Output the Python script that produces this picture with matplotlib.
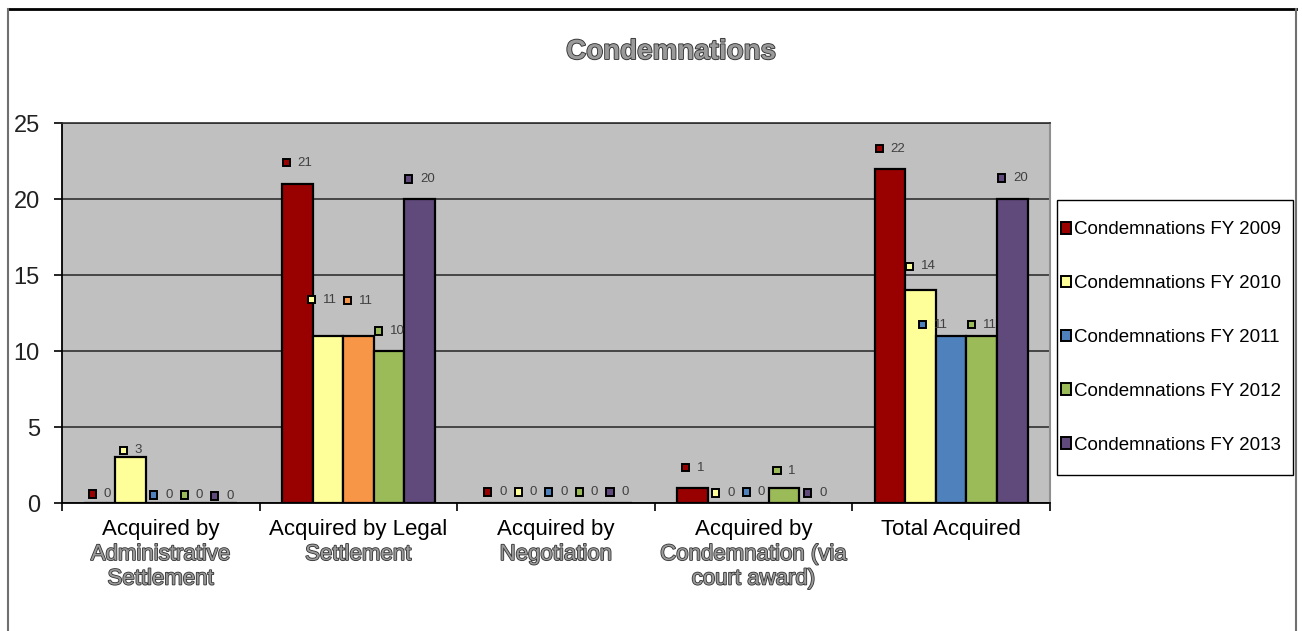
import matplotlib
matplotlib.use("Agg")
import matplotlib.pyplot as plt
import matplotlib.patheffects as pe
from matplotlib.patches import Patch, Rectangle
from matplotlib.lines import Line2D
from matplotlib.offsetbox import DrawingArea, TextArea, HPacker, AnnotationBbox
from matplotlib import font_manager

# ---- data ----
categories = [
    "Acquired by\nAdministrative\nSettlement",
    "Acquired by Legal\nSettlement",
    "Acquired by\nNegotiation",
    "Acquired by\nCondemnation (via\ncourt award)",
    "Total Acquired",
]
series_names = [
    "Condemnations FY 2009",
    "Condemnations FY 2010",
    "Condemnations FY 2011",
    "Condemnations FY 2012",
    "Condemnations FY 2013",
]
fy2009 = [0, 21, 0, 1, 22]
fy2010 = [3, 11, 0, 0, 14]
fy2011 = [0, 11, 0, 0, 11]
fy2012 = [0, 10, 0, 1, 11]
fy2013 = [0, 20, 0, 0, 20]
values = [fy2009, fy2010, fy2011, fy2012, fy2013]
y_ticks = [0, 5, 10, 15, 20, 25]

# ---- styling ----
series_colors = ["#990000", "#FFFF99", "#4F81BD", "#9BBB59", "#604A7B"]
point_color_override = {(2, 1): "#F79646"}   # (series, category)
# label lift above bar top, in pixels, per series then category
label_lift = [
    [9, 21, 11, 20, 20],
    [7, 36, 11, 10, 24],
    [8, 35, 11, 11, 11],
    [8, 20, 11, 17, 11],
    [7, 20, 11, 10, 21],
]
label_shift = {(1, 1): -6, (2, 4): -18}

avail = {f.name for f in font_manager.fontManager.ttflist}
base_font = "Liberation Sans" if "Liberation Sans" in avail else "DejaVu Sans"
plt.rcParams["font.family"] = [base_font, "DejaVu Sans"]

W, H = 1302, 631
fig = plt.figure(figsize=(W / 100, H / 100), dpi=100)
fig.patch.set_facecolor("white")

def fx(px):
    return px / W

def fy(py):
    return 1 - py / H

ax = fig.add_axes([fx(62), fy(503), fx(1050) - fx(62), fy(123) - fy(503)])
ax.set_facecolor("#C0C0C0")

n_series = len(values)
gap = 1.46
bw = 1.0 / (n_series + gap)
xs = list(range(len(categories)))

for s in range(n_series):
    for c in xs:
        col = point_color_override.get((s, c), series_colors[s])
        x = c + (s - (n_series - 1) / 2) * bw
        ax.bar(x, values[s][c], width=bw, color=col, edgecolor="black",
               linewidth=1.6, zorder=3)

ax.set_xlim(-0.5, len(categories) - 0.5)
ax.set_ylim(0, 25)
ax.set_yticks(y_ticks)
ax.set_yticklabels([str(t) for t in y_ticks], fontsize=17, color="#222222")
ax.set_xticks([i - 0.5 for i in range(len(categories) + 1)])
ax.set_xticklabels([])
ax.tick_params(axis="y", direction="out", length=6, width=1.2, pad=10)
ax.tick_params(axis="x", direction="out", length=6, width=1.2)
ax.yaxis.grid(True, color="#303030", linewidth=1.2, zorder=1)
ax.set_axisbelow(True)
for side in ["left", "bottom"]:
    ax.spines[side].set_color("black")
    ax.spines[side].set_linewidth(1.3)
ax.spines["top"].set_color("#303030")
ax.spines["top"].set_linewidth(1.2)
ax.spines["right"].set_color("#909090")
ax.spines["right"].set_linewidth(1.5)

# data labels with legend keys
px2pt = 0.72
for s in range(n_series):
    for c in xs:
        v = values[s][c]
        col = point_color_override.get((s, c), series_colors[s])
        x = c + (s - (n_series - 1) / 2) * bw
        key = DrawingArea(6.5, 6.5, 0, 0)
        key.add_artist(Rectangle((0.7, 0.7), 5.1, 5.1, facecolor=col,
                                 edgecolor="black", linewidth=1.4))
        txt = TextArea(str(v), textprops=dict(fontsize=9.5, color="#404040"))
        box = HPacker(children=[key, txt], sep=5, align="center", pad=0)
        dx = label_shift.get((s, c), 0)
        ab = AnnotationBbox(box, (x, v), xybox=(dx * px2pt, label_lift[s][c] * px2pt),
                            xycoords="data", boxcoords="offset points",
                            frameon=False, pad=0, box_alignment=(0.5, 0.5),
                            annotation_clip=False, zorder=5)
        ax.add_artist(ab)

# category labels: first line plain, following lines outlined
outline = [pe.Stroke(linewidth=1.2, foreground="#333333"), pe.Normal()]
for c, name in enumerate(categories):
    lines = name.split("\n")
    for i, line in enumerate(lines):
        if i > 0:
            kw = dict(color="#9A9A9A", path_effects=outline)
        else:
            kw = dict(color="black")
        ax.annotate(line, xy=(c, 0), xycoords=("data", "axes fraction"),
                    xytext=(0, -(27 + 24.5 * i) * px2pt), textcoords="offset points",
                    ha="center", va="center", fontsize=16, annotation_clip=False,
                    **kw)

# title
fig.text(fx(671), fy(52), "Condemnations", ha="center", va="center",
         fontsize=20, fontweight="bold", color="#9A9A9A",
         path_effects=[pe.Stroke(linewidth=1.3, foreground="#333333"), pe.Normal()])

# legend
handles = [Patch(facecolor=series_colors[s], edgecolor="black", linewidth=1.4)
           for s in range(n_series)]
leg = fig.legend(handles, series_names, loc="center left",
                 bbox_to_anchor=(fx(1061), fy(337.5)), fontsize=13.5,
                 frameon=False,
                 handlelength=0.55, handleheight=0.55, handletextpad=0.15,
                 labelspacing=1.96, borderpad=0, borderaxespad=0)
fig.add_artist(Rectangle((fx(1057), fy(475)), fx(1293) - fx(1057), fy(200) - fy(475),
                         transform=fig.transFigure, facecolor="none",
                         edgecolor="black", linewidth=1.0))

# chart border
fig.add_artist(Line2D([fx(8), fx(1296)], [fy(9), fy(9)], color="black", linewidth=2))
fig.add_artist(Line2D([fx(8), fx(8)], [fy(9), 0], color="#707070", linewidth=1.5))
fig.add_artist(Line2D([fx(1296), fx(1296)], [fy(9), 0], color="#707070", linewidth=1.5))

fig.savefig("out.png", dpi=100, facecolor="white")
